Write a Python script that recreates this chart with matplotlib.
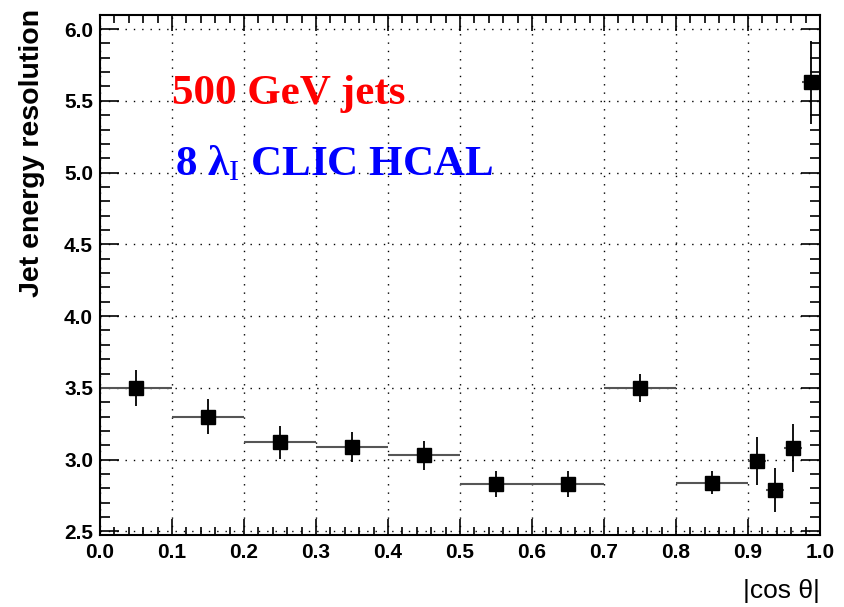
import matplotlib
matplotlib.use("Agg")
import matplotlib.pyplot as plt
from matplotlib.ticker import MultipleLocator, FormatStrFormatter

plt.rcParams['mathtext.fontset'] = 'custom'
plt.rcParams['mathtext.rm'] = 'Liberation Serif'
plt.rcParams['mathtext.it'] = 'Liberation Serif:italic'
plt.rcParams['mathtext.bf'] = 'Liberation Serif:bold'

# Data
bin_lo = [0.0, 0.1, 0.2, 0.3, 0.4, 0.5, 0.6, 0.7, 0.8, 0.9, 0.925, 0.95, 0.975]
bin_hi = [0.1, 0.2, 0.3, 0.4, 0.5, 0.6, 0.7, 0.8, 0.9, 0.925, 0.95, 0.975, 1.0]
resolution = [3.50, 3.30, 3.12, 3.09, 3.03, 2.83, 2.83, 3.50, 2.84, 2.99, 2.79, 3.08, 5.63]
res_err = [0.125, 0.12, 0.115, 0.105, 0.10, 0.09, 0.088, 0.10, 0.08, 0.165, 0.155, 0.165, 0.29]

x_center = [(a + b) / 2 for a, b in zip(bin_lo, bin_hi)]
x_half = [(b - a) / 2 for a, b in zip(bin_lo, bin_hi)]

fig = plt.figure(figsize=(8.45, 6.07), dpi=100)
ax = fig.add_axes([100/845, 1 - 535/607, 720/845, 520/607])

# grid
ax.set_axisbelow(True)
ax.grid(True, which='major', color='black', linestyle=(0, (1, 5)), linewidth=1.0)

# horizontal bin-width bars (grey) and vertical error bars (black)
ax.errorbar(x_center, resolution, xerr=x_half, fmt='none', ecolor='#555555',
            elinewidth=1.5, capsize=0, zorder=2)
ax.errorbar(x_center, resolution, yerr=res_err, fmt='none', ecolor='black',
            elinewidth=1.3, capsize=0, zorder=2)
ax.plot(x_center, resolution, linestyle='none', marker='s', markersize=9.5,
        color='black', zorder=3)

ax.set_xlim(0.0, 1.0)
ax.set_ylim(2.475, 6.098)

ax.xaxis.set_major_locator(MultipleLocator(0.1))
ax.xaxis.set_minor_locator(MultipleLocator(0.02))
ax.yaxis.set_major_locator(MultipleLocator(0.5))
ax.yaxis.set_minor_locator(MultipleLocator(0.1))
ax.xaxis.set_major_formatter(FormatStrFormatter('%.1f'))
ax.yaxis.set_major_formatter(FormatStrFormatter('%.1f'))

ax.tick_params(which='both', direction='in', top=True, right=True, width=1.2,
               colors='black')
ax.tick_params(axis='x', which='major', length=11.5, pad=6)
ax.tick_params(axis='x', which='minor', length=5.8)
ax.tick_params(axis='y', which='major', length=13.5, pad=5)
ax.tick_params(axis='y', which='minor', length=7)

for lab in ax.get_xticklabels() + ax.get_yticklabels():
    lab.set_fontfamily('Liberation Sans')
    lab.set_fontweight('bold')
    lab.set_fontsize(15)

for sp in ax.spines.values():
    sp.set_linewidth(1.5)

# labels
fig.text(32/845, 1 - 9/607, 'Jet energy resolution', rotation=90, ha='center', va='top',
         fontsize=20.5, fontweight='bold', family='Liberation Sans')
fig.text(820/845, 1 - 591/607, '|cos θ|', ha='right', va='center',
         fontsize=19, family='Liberation Sans')

ax.text(0.1, 5.48, '500 GeV jets', color='#ff0000', fontsize=31, fontweight='bold',
        family='Liberation Serif', ha='left', va='baseline')
ax.text(0.104, 4.98, r'8 λ$_{\mathrm{I}}$ CLIC HCAL', color='#0000ff', fontsize=31,
        fontweight='bold', family='Liberation Serif', ha='left', va='baseline')

fig.savefig('out.png', dpi=100)
